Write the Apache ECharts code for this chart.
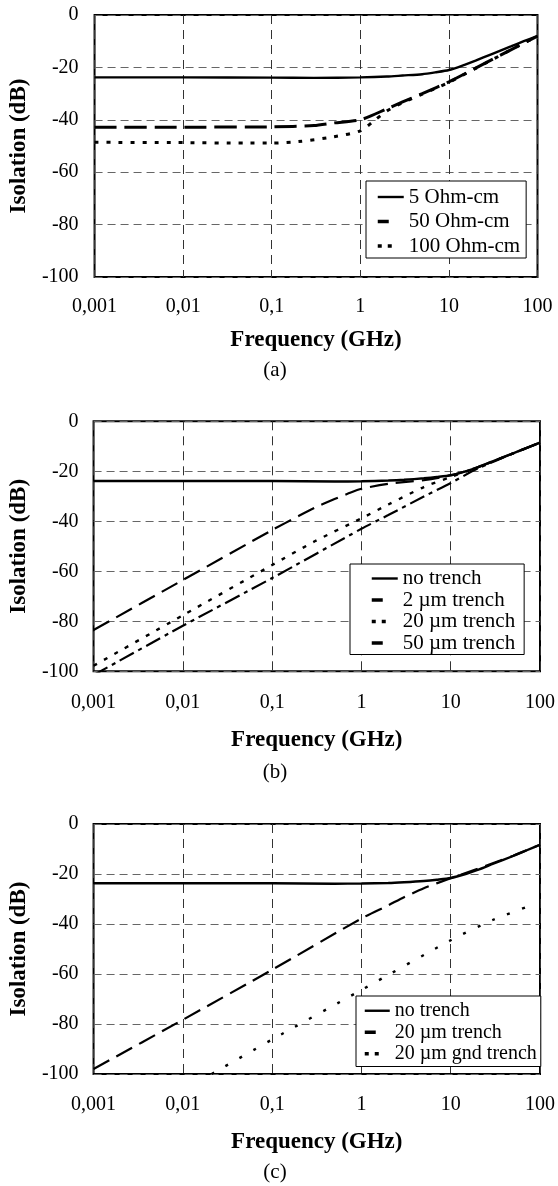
<!DOCTYPE html>
<html>
<head>
<meta charset="utf-8">
<script src="https://cdn.jsdelivr.net/npm/echarts@6/dist/echarts.min.js"></script>
<style>
  html, body { margin: 0; padding: 0; background: #fff; }
  #wrap { position: relative; width: 558px; height: 1186px; }
  .c { position: absolute; left: 0; width: 558px; }
</style>
</head>
<body>
<div id="wrap">
  <div id="ca" class="c" style="top:0;height:390px"></div>
  <div id="cb" class="c" style="top:390px;height:400px"></div>
  <div id="cc" class="c" style="top:790px;height:396px"></div>
</div>
<script>
// ---------- tick labels ----------
const xTicks = [0.001, 0.01, 0.1, 1, 10, 100];
const xTickLabels = ['0,001', '0,01', '0,1', '1', '10', '100'];
const xTitle = 'Frequency (GHz)';
const yTitle = 'Isolation (dB)';

// ---------- chart (a) ----------
const aNames = ['5 Ohm-cm', '50 Ohm-cm', '100 Ohm-cm'];
const aFreq5 = [0.001, 0.01, 0.1, 0.3, 1, 2, 3, 5, 7, 10, 15, 20, 30, 50, 70, 100];
const aIso5 = [-23.8, -23.8, -23.9, -24.0, -23.8, -23.5, -23.1, -22.6, -21.9, -21.0, -19.0, -17.4, -15.0, -12.0, -10.0, -8.0];
const aFreq50 = [0.001, 0.01, 0.1, 0.3, 0.5, 1, 2, 3, 5, 10, 20, 50, 100];
const aIso50 = [-42.8, -42.8, -42.7, -42.2, -41.2, -40.0, -35.8, -33.2, -30.0, -25.5, -20.3, -13.3, -8.1];
const aFreq100 = [0.001, 0.01, 0.05, 0.1, 0.2, 0.5, 1, 1.5, 2, 3, 5, 10, 20, 50, 100];
const aIso100 = [-48.6, -48.7, -48.9, -48.9, -48.3, -46.5, -44.2, -39.8, -36.6, -33.5, -30.2, -25.7, -20.4, -13.3, -8.1];

// ---------- chart (b) ----------
const bNames = ['no trench', '2 µm trench', '20 µm trench', '50 µm trench'];
const bFreqNo = [0.001, 0.01, 0.1, 0.5, 1, 2, 3, 5, 7, 10, 15, 20, 30, 50, 70, 100];
const bIsoNo = [-23.9, -23.9, -23.9, -24.1, -24.0, -23.7, -23.4, -22.8, -22.3, -21.6, -19.9, -18.4, -15.9, -12.8, -10.7, -8.5];
const bFreq2 = [0.001, 0.01, 0.1, 0.2, 0.3, 0.5, 0.7, 1, 2, 5, 10, 20, 50, 100];
const bIso2 = [-83.5, -63.5, -43.5, -37.8, -34.6, -31.1, -29.0, -27.0, -25.0, -23.5, -21.6, -18.4, -12.8, -8.5];
const bFreq20 = [0.001, 0.01, 0.1, 0.3, 1, 2, 5, 10, 20, 50, 100];
const bIso20 = [-97.8, -77.6, -57.5, -48.0, -38.8, -33.3, -26.3, -22.3, -18.4, -12.8, -8.5];
const bFreq50 = [0.001, 0.01, 0.1, 1, 2, 5, 10, 20, 50, 100];
const bIso50 = [-101.5, -81.8, -62.7, -43.0, -37.5, -30.1, -24.7, -18.9, -12.9, -8.5];

// ---------- chart (c) ----------
const cNames = ['no trench', '20 µm trench', '20 µm gnd trench'];
const cFreqNo = [0.001, 0.01, 0.1, 0.5, 1, 2, 3, 5, 7, 10, 15, 20, 30, 50, 70, 100];
const cIsoNo = [-23.7, -23.7, -23.7, -23.9, -23.8, -23.6, -23.3, -22.8, -22.3, -21.6, -19.9, -18.4, -15.9, -12.8, -10.6, -8.3];
const cFreq20 = [0.001, 0.01, 0.1, 1, 2, 3, 5, 10, 20, 50, 100];
const cIso20 = [-98.0, -78.3, -58.3, -37.8, -32.5, -29.3, -25.7, -21.7, -17.9, -12.7, -8.3];
const cFreqGnd = [0.021, 0.1, 1, 10, 30, 80];
const cIsoGnd = [-100.0, -86.2, -66.4, -46.5, -38.3, -32.5];

// ---------- helpers ----------
const SERIF = "'Liberation Serif', 'Times New Roman', Times, serif";
function pairs(xs, ys) { return xs.map((x, i) => [x, ys[i]]); }
function xLabel(v) {
  const k = Math.round(Math.log10(v)) - Math.round(Math.log10(xTicks[0]));
  return xTickLabels[k] !== undefined ? xTickLabels[k] : '';
}
const STY = {
  solid: { color: '#000', width: 2.4, type: 'solid' },
  dashA: { color: '#000', width: 3, type: [22, 8] },
  dotA:  { color: '#000', width: 3, type: [4, 8] },
  dash:  { color: '#000', width: 2.2, type: [18, 8] },
  dot:   { color: '#000', width: 2.4, type: [4, 8] },
  dashdot: { color: '#000', width: 2.2, type: [16, 5, 4, 5] },
  dotSparse: { color: '#000', width: 2.4, type: [3, 13] }
};
// legend samples: the first part of each dash pattern, as in the reference
const LEG = {
  solid: { color: '#000', width: 2.4, type: 'solid' },
  dash:  { color: '#000', width: 3.5, type: [11, 40] },
  dot:   { color: '#000', width: 3.5, type: [4, 6, 4, 40] }
};
function line(name, xs, ys, sty) {
  return {
    type: 'line', name: name, data: pairs(xs, ys),
    symbol: 'none', showSymbol: false, smooth: 0.25, clip: true,
    lineStyle: sty, itemStyle: { color: '#000' }, animation: false
  };
}
function build(cfg) {
  return {
    animation: false,
    backgroundColor: '#fff',
    textStyle: { fontFamily: SERIF, color: '#000' },
    grid: { left: cfg.left, top: cfg.top, width: cfg.width, height: cfg.height,
      show: true, borderColor: '#000', borderWidth: 2, backgroundColor: 'transparent', containLabel: false },
    xAxis: {
      type: 'log', logBase: 10, min: 0.001, max: 100,
      axisLine: { show: false }, axisTick: { show: false },
      axisLabel: { formatter: xLabel, fontSize: 20, fontFamily: SERIF, color: '#000', margin: cfg.xMargin },
      splitLine: { show: true, lineStyle: { color: '#333', width: 1, type: [9, 6] } },
      minorSplitLine: { show: false },
      name: xTitle, nameLocation: 'middle', nameGap: cfg.xNameGap,
      nameTextStyle: { fontSize: 23, fontWeight: 'bold', fontFamily: SERIF, color: '#000' }
    },
    yAxis: {
      type: 'value', min: -100, max: 0, interval: 20,
      axisLine: { show: false }, axisTick: { show: false },
      axisLabel: { fontSize: 20, fontFamily: SERIF, color: '#000', margin: cfg.yMargin },
      splitLine: { show: true, lineStyle: { color: '#666', width: 1.2, type: [8, 5] } },
      name: yTitle, nameLocation: 'middle', nameGap: cfg.yNameGap, nameRotate: 90,
      nameTextStyle: { fontSize: 23, fontWeight: 'bold', fontFamily: SERIF, color: '#000' }
    },
    legend: {
      orient: 'vertical', left: cfg.legLeft, top: cfg.legTop,
      data: cfg.series.map((s, i) => ({
        name: s.name,
        lineStyle: cfg.legStyles[i],
        itemStyle: { opacity: 0, borderWidth: 0, color: 'rgba(0,0,0,0)' }
      })),
      backgroundColor: '#fff', borderColor: '#000', borderWidth: 1, borderRadius: 0,
      padding: cfg.legPad, itemGap: cfg.legGap, itemWidth: cfg.legItemW, itemHeight: 12,
      selectedMode: false,
      textStyle: { fontSize: cfg.legFont, fontFamily: SERIF, color: '#000', lineHeight: cfg.legLine }
    },
    graphic: [{
      type: 'text', x: 275, y: cfg.capY,
      style: { text: cfg.caption, font: '21px ' + SERIF, fill: '#000', textAlign: 'center', textVerticalAlign: 'middle' }
    }],
    series: cfg.series
  };
}

// ---------- charts ----------
const chartA = echarts.init(document.getElementById('ca'), null, { renderer: 'canvas' });
chartA.setOption(build({
  left: 90, top: 15, width: 447.5, height: 262,
  xMargin: 20, xNameGap: 51.5, yMargin: 16, yNameGap: 62,
  legLeft: 366, legTop: 181, legPad: [5, 6, 1, 10], legGap: 2.5, legLine: 22, legFont: 21, legItemW: 26,
  legStyles: [LEG.solid, LEG.dash, LEG.dot],
  caption: '(a)', capY: 370,
  series: [
    line(aNames[0], aFreq5, aIso5, STY.solid),
    line(aNames[1], aFreq50, aIso50, STY.dashA),
    line(aNames[2], aFreq100, aIso100, STY.dotA)
  ]
}));

const chartB = echarts.init(document.getElementById('cb'), null, { renderer: 'canvas' });
chartB.setOption(build({
  left: 93, top: 31.3, width: 450, height: 250,
  xMargin: 21.5, xNameGap: 57, yMargin: 15, yNameGap: 60.5,
  legLeft: 350, legTop: 174, legPad: [4, 9, 1, 20], legGap: 0.5, legLine: 21, legFont: 21, legItemW: 26,
  legStyles: [LEG.solid, LEG.dash, LEG.dot, LEG.dash],
  caption: '(b)', capY: 382,
  series: [
    line(bNames[0], bFreqNo, bIsoNo, STY.solid),
    line(bNames[1], bFreq2, bIso2, STY.dash),
    line(bNames[2], bFreq20, bIso20, STY.dot),
    line(bNames[3], bFreq50, bIso50, STY.dashdot)
  ]
}));

const chartC = echarts.init(document.getElementById('cc'), null, { renderer: 'canvas' });
chartC.setOption(build({
  left: 93, top: 34, width: 450, height: 250,
  xMargin: 21, xNameGap: 56.5, yMargin: 15, yNameGap: 62,
  legLeft: 356, legTop: 206, legPad: [4, 4, 2, 7], legGap: 0, legLine: 21.5, legFont: 20, legItemW: 25,
  legStyles: [LEG.solid, LEG.dash, LEG.dot],
  caption: '(c)', capY: 382,
  series: [
    line(cNames[0], cFreqNo, cIsoNo, STY.solid),
    line(cNames[1], cFreq20, cIso20, STY.dash),
    line(cNames[2], cFreqGnd, cIsoGnd, STY.dotSparse)
  ]
}));
</script>
</body>
</html>
